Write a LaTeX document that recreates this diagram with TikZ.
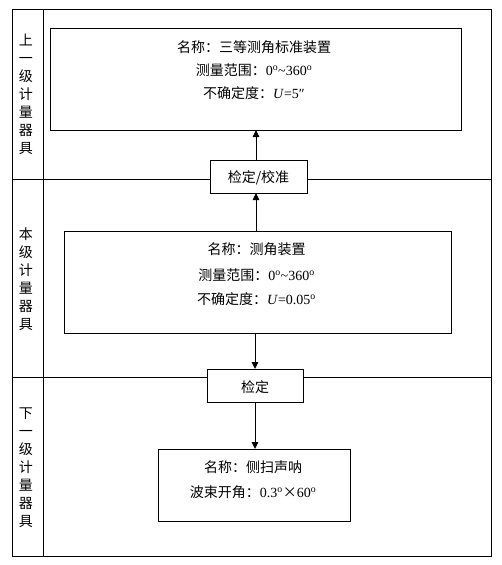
\documentclass[tikz,border=0pt]{standalone}
\usepackage{fontspec}
\setmainfont{Noto Sans CJK SC}
\newfontfamily\tnr{Liberation Serif}
\usetikzlibrary{arrows.meta}
\newcommand{\dg}{\textsuperscript{o}}
\begin{document}
\begin{tikzpicture}[x=1pt,y=-1pt, line width=0.9pt,
  box/.style={draw, fill=white, inner sep=0pt, outer sep=0pt},
  txt/.style={inner sep=0pt, font=\fontsize{14}{18}\selectfont, text height=0.83em, text depth=0.07em},
  lbl/.style={inner sep=0pt, align=center, font=\fontsize{14}{18}\selectfont},
  arr/.style={-{Triangle[length=7pt,width=6.5pt]}}]
\useasboundingbox (0,0) rectangle (502,565);
% frame
\draw (12,9) rectangle (491,556);
\draw (43,9) -- (43,556);
\draw (12,179) -- (491,179);
\draw (12,377) -- (491,377);
% level labels
\node[lbl] (l1) at (26,94) {上\\一\\级\\计\\量\\器\\具};
\node[lbl] (l2) at (26,279) {本\\级\\计\\量\\器\\具};
\node[lbl] (l3) at (26,468) {下\\一\\级\\计\\量\\器\\具};
% boxes
\node[box, minimum width=411pt, minimum height=102pt] (b1) at (255.5,79) {};
\node[box, minimum width=97pt, minimum height=33pt] (c1) at (258.5,176.5) {};
\node[box, minimum width=387pt, minimum height=102pt] (b2) at (257.5,282) {};
\node[box, minimum width=96pt, minimum height=33pt] (c2) at (255,385.5) {};
\node[box, minimum width=192pt, minimum height=72pt] (b3) at (254,485) {};
% texts
\node[txt] (t11) at (254,48.5) {名称：三等测角标准装置};
\node[txt] (t12) at (254,71.5) {测量范围：{\tnr 0\dg\textasciitilde360\dg}};
\node[txt] (t13) at (254,95) {不确定度：{\tnr\itshape U\/}{\tnr =5″}};
\node[txt] (tc1) at (258.5,178.5) {检定/校准};
\node[txt] (t21) at (256.5,250.5) {名称：测角装置};
\node[txt] (t22) at (256.5,276.5) {测量范围：{\tnr 0\dg\textasciitilde360\dg}};
\node[txt] (t23) at (256.5,300.5) {不确定度：{\tnr\itshape U\/}{\tnr =0.05\dg}};
\node[txt] (tc2) at (255,388.5) {检定};
\node[txt] (t31) at (253,468.5) {名称：侧扫声呐};
\node[txt] (t32) at (253,494) {波束开角：{\tnr 0.3\dg}×{\tnr 60\dg}};
% arrows
\draw[arr] ([xshift=-2.5pt]c1.north) -- ([xshift=-2.5pt]c1.north |- b1.south);
\draw[arr] ([xshift=-1.5pt]b2.north) -- ([xshift=-1.5pt]b2.north |- c1.south);
\draw[arr] ([xshift=-2.5pt]b2.south) -- ([xshift=-2.5pt]b2.south |- c2.north);
\draw[arr] (c2.south) -- (c2.south |- b3.north);
\end{tikzpicture}
\end{document}
